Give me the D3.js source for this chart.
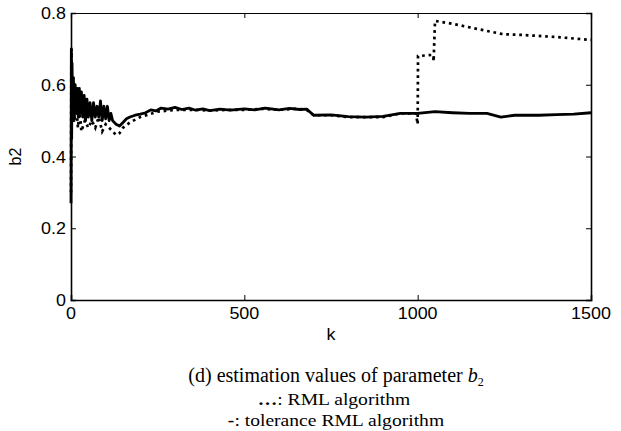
<!DOCTYPE html>
<html>
<head>
<meta charset="utf-8">
<script src="https://cdn.jsdelivr.net/npm/d3@7"></script>
<style>
  body { margin: 0; background: #fff; }
  svg text { fill: #000; }
</style>
</head>
<body>
<div id="chart"></div>
<script>
// --- data ---
// tolerance RML algorithm (solid)
const kTol = [0, 1, 2, 3, 5, 7, 9, 12, 15, 18, 21, 24, 27, 30, 34, 38, 42, 46, 50, 55, 60, 65, 70, 75, 80, 85, 90, 95, 100, 105, 110, 115, 120, 130, 140, 150, 160, 170, 185, 200, 215, 230, 245, 260, 280, 300, 320, 340, 360, 380, 400, 430, 460, 500, 530, 560, 600, 630, 660, 680, 700, 750, 800, 850, 900, 950, 1000, 1050, 1100, 1150, 1200, 1240, 1280, 1350, 1400, 1450, 1500];
const b2Tol = [0.27, 0.70, 0.45, 0.66, 0.52, 0.62, 0.50, 0.60, 0.52, 0.59, 0.51, 0.59, 0.52, 0.58, 0.51, 0.57, 0.50, 0.56, 0.51, 0.55, 0.50, 0.55, 0.51, 0.54, 0.51, 0.555, 0.50, 0.54, 0.505, 0.54, 0.50, 0.52, 0.50, 0.49, 0.485, 0.495, 0.505, 0.51, 0.515, 0.518, 0.522, 0.53, 0.527, 0.535, 0.532, 0.537, 0.531, 0.535, 0.529, 0.533, 0.528, 0.532, 0.529, 0.533, 0.53, 0.535, 0.53, 0.534, 0.531, 0.532, 0.515, 0.516, 0.511, 0.51, 0.512, 0.52, 0.52, 0.525, 0.522, 0.52, 0.52, 0.51, 0.515, 0.515, 0.517, 0.518, 0.522];

// RML algorithm (dotted)
const kRml = [0, 1, 3, 6, 10, 15, 20, 25, 30, 40, 50, 60, 70, 80, 90, 100, 110, 120, 130, 140, 150, 170, 200, 250, 300, 360, 400, 450, 500, 550, 600, 650, 680, 700, 750, 800, 850, 900, 950, 995, 1000, 1001, 1040, 1045, 1046, 1050, 1100, 1150, 1200, 1246, 1300, 1400, 1500];
const b2Rml = [0.30, 0.70, 0.55, 0.62, 0.50, 0.55, 0.48, 0.53, 0.47, 0.50, 0.48, 0.50, 0.48, 0.51, 0.47, 0.49, 0.48, 0.47, 0.46, 0.465, 0.48, 0.495, 0.51, 0.525, 0.53, 0.53, 0.528, 0.53, 0.53, 0.533, 0.53, 0.533, 0.53, 0.515, 0.515, 0.51, 0.51, 0.51, 0.52, 0.52, 0.49, 0.68, 0.683, 0.68, 0.665, 0.778, 0.77, 0.76, 0.75, 0.741, 0.739, 0.733, 0.725];

const xTicks = [0, 500, 1000, 1500];
const yTicks = [0, 0.2, 0.4, 0.6, 0.8];
const xLabel = "k";
const yLabel = "b2";

// --- layout ---
const W = 621, H = 431;
const mLeft = 71, mRight = 591, mTop = 13, mBottom = 300;

const svg = d3.select("#chart").append("svg")
    .attr("width", W)
    .attr("height", H);

const x = d3.scaleLinear().domain([0, 1500]).range([mLeft, mRight]);
const y = d3.scaleLinear().domain([0, 0.8]).range([mBottom, mTop]);

// series
const line = d3.line()
    .x(d => x(d[0]))
    .y(d => y(d[1]));

const rml = kRml.map((k, i) => [k, b2Rml[i]]);
const tol = kTol.map((k, i) => [k, b2Tol[i]]);

svg.append("path")
    .attr("d", line(rml))
    .attr("fill", "none")
    .attr("stroke", "#000")
    .attr("stroke-width", 2.7)
    .attr("stroke-dasharray", "2.7,3.8");

svg.append("path")
    .attr("d", line(tol))
    .attr("fill", "none")
    .attr("stroke", "#000")
    .attr("stroke-width", 2.8)
    .attr("stroke-linejoin", "round");

// box + inward ticks on all sides
const tick = 5;
svg.append("g").attr("transform", `translate(0,${mBottom})`)
    .call(d3.axisBottom(x).tickValues(xTicks).tickSize(-tick).tickFormat(""))
    .call(g => g.select(".domain").attr("stroke-width", 1.6));
svg.append("g").attr("transform", `translate(0,${mTop})`)
    .call(d3.axisTop(x).tickValues(xTicks).tickSize(-tick).tickFormat(""))
    .call(g => g.select(".domain").attr("stroke-width", 1.2));
svg.append("g").attr("transform", `translate(${mLeft},0)`)
    .call(d3.axisLeft(y).tickValues(yTicks).tickSize(-tick).tickFormat(""))
    .call(g => g.select(".domain").attr("stroke-width", 1.6));
svg.append("g").attr("transform", `translate(${mRight},0)`)
    .call(d3.axisRight(y).tickValues(yTicks).tickSize(-tick).tickFormat(""))
    .call(g => g.select(".domain").attr("stroke-width", 1.6));
svg.selectAll(".domain").attr("stroke", "#000");
svg.selectAll(".tick line").attr("stroke", "#000");

// tick labels
const tickFont = "Liberation Sans, Arial, sans-serif";
svg.append("g").selectAll("text")
    .data(xTicks).join("text")
    .attr("transform", d => `translate(${x(d)},${mBottom + 19}) scale(1.12,1)`)
    .attr("text-anchor", "middle")
    .style("font-family", tickFont)
    .style("font-size", "16px")
    .text(d => d);

svg.append("g").selectAll("text")
    .data(yTicks).join("text")
    .attr("transform", d => `translate(${mLeft - 5},${y(d) + 6}) scale(1.12,1)`)
    .attr("text-anchor", "end")
    .style("font-family", tickFont)
    .style("font-size", "16px")
    .text(d => d);

// axis titles
svg.append("text")
    .attr("transform", `translate(${(mLeft + mRight) / 2},${mBottom + 40}) scale(1.12,1)`)
    .attr("text-anchor", "middle")
    .style("font-family", tickFont)
    .style("font-size", "16px")
    .text(xLabel);

svg.append("text")
    .attr("transform", `translate(21,${(mTop + mBottom) / 2}) rotate(-90)`)
    .attr("text-anchor", "middle")
    .style("font-family", tickFont)
    .style("font-size", "16px")
    .text(yLabel);

// caption
const capFont = "Liberation Serif, 'Times New Roman', serif";
const cap = svg.append("text")
    .attr("x", 336)
    .attr("y", 382)
    .attr("text-anchor", "middle")
    .style("font-family", capFont)
    .style("font-size", "20px");
cap.append("tspan").text("(d) estimation values of parameter  ");
cap.append("tspan").style("font-style", "italic").text("b");
cap.append("tspan").attr("dy", 4).style("font-size", "12px").text("2");

const leg1 = svg.append("text")
    .attr("transform", "translate(334,405) scale(1.12,1)")
    .attr("text-anchor", "middle")
    .style("font-family", capFont)
    .style("font-size", "17.5px");
leg1.append("tspan").style("font-weight", "bold").text("\u2026");
leg1.append("tspan").text(": RML algorithm");

const leg2 = svg.append("text")
    .attr("transform", "translate(336,426) scale(1.12,1)")
    .attr("text-anchor", "middle")
    .style("font-family", capFont)
    .style("font-size", "17.5px");
leg2.append("tspan").style("font-weight", "bold").text("-");
leg2.append("tspan").text(": tolerance RML algorithm");
</script>
</body>
</html>
